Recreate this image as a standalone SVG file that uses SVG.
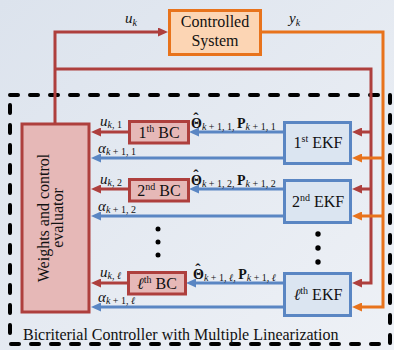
<svg xmlns="http://www.w3.org/2000/svg" width="394" height="350" viewBox="0 0 394 350">
<defs>
<linearGradient id="bg" x1="0" y1="0" x2="1" y2="1">
<stop offset="0" stop-color="#dce3ed"/>
<stop offset="1" stop-color="#eef1f6"/>
</linearGradient>
<marker id="ar" viewBox="0 0 10 9" refX="5" refY="4.5" markerWidth="10" markerHeight="9" markerUnits="userSpaceOnUse" orient="auto"><path d="M0,0 L10,4.5 L0,9 z" fill="#ae3f3d"/></marker>
<marker id="ab" viewBox="0 0 10 9" refX="5" refY="4.5" markerWidth="10" markerHeight="9" markerUnits="userSpaceOnUse" orient="auto"><path d="M0,0 L10,4.5 L0,9 z" fill="#5a86c3"/></marker>
<marker id="ao" viewBox="0 0 10 9" refX="5" refY="4.5" markerWidth="10" markerHeight="9" markerUnits="userSpaceOnUse" orient="auto"><path d="M0,0 L10,4.5 L0,9 z" fill="#e8731c"/></marker>
</defs>
<style>
text,tspan{font-family:"Liberation Serif","DejaVu Serif",serif}
text{fill:#111}
.red{fill:none;stroke:#ae3f3d;stroke-width:3}
.blu{fill:none;stroke:#5a86c3;stroke-width:3}
.org{fill:none;stroke:#e8731c;stroke-width:3}
.bc{fill:#e6b8b7;stroke:#ae3f3d;stroke-width:3}
.ekf{fill:#dbe5f1;stroke:#5a86c3;stroke-width:3}
.box{font-size:16px;text-anchor:middle}
.sup{font-size:10px}
.m{font-size:15px;font-style:italic}
.s{font-size:10px;font-style:italic}
.sn{font-size:10px;font-style:normal}
.b{font-size:14px;font-weight:bold}
.hat{font-size:16px;font-weight:bold}
.dot{fill:#000}
</style>
<rect x="0" y="0" width="394" height="350" fill="url(#bg)"/>
<rect x="10" y="95" width="380" height="249" fill="none" stroke="#000" stroke-width="4" stroke-dasharray="8 12" stroke-linecap="round"/>
<text x="23" y="340" font-size="16">Bicriterial Controller with Multiple Linearization</text>

<g id="connectors">
<polyline class="red" points="55,123 55,32 163,32" marker-end="url(#ar)"/>
<polyline class="red" points="55,69 371,69 371,283 357,283" marker-end="url(#ar)"/>
<line class="red" x1="371" y1="132" x2="357" y2="132" marker-end="url(#ar)"/>
<line class="red" x1="371" y1="189" x2="357" y2="189" marker-end="url(#ar)"/>
<polyline class="org" points="262,32 383,32 383,307 357,307" marker-end="url(#ao)"/>
<line class="org" x1="383" y1="158" x2="357" y2="158" marker-end="url(#ao)"/>
<line class="org" x1="383" y1="216" x2="357" y2="216" marker-end="url(#ao)"/>
<line class="blu" x1="284" y1="132" x2="194" y2="132" marker-end="url(#ab)"/>
<line class="blu" x1="284" y1="189" x2="194" y2="189" marker-end="url(#ab)"/>
<line class="blu" x1="284" y1="283" x2="191" y2="283" marker-end="url(#ab)"/>
<line class="blu" x1="284" y1="158" x2="96" y2="158" marker-end="url(#ab)"/>
<line class="blu" x1="284" y1="216" x2="96" y2="216" marker-end="url(#ab)"/>
<line class="blu" x1="284" y1="307" x2="96" y2="307" marker-end="url(#ab)"/>
<line class="red" x1="129" y1="132" x2="96" y2="132" marker-end="url(#ar)"/>
<line class="red" x1="129" y1="189" x2="96" y2="189" marker-end="url(#ar)"/>
<line class="red" x1="128" y1="283" x2="96" y2="283" marker-end="url(#ar)"/>
<text x="125" y="23"><tspan class="m">u</tspan><tspan class="s" dy="3">k</tspan></text>
<text x="289" y="23"><tspan class="m">y</tspan><tspan class="s" dy="3">k</tspan></text>
<text x="100" y="126"><tspan class="m">u</tspan><tspan class="s" dy="2">k</tspan><tspan class="sn">, 1</tspan></text>
<text x="100" y="184"><tspan class="m">u</tspan><tspan class="s" dy="2">k</tspan><tspan class="sn">, 2</tspan></text>
<text x="100" y="277"><tspan class="m">u</tspan><tspan class="s" dy="2">k</tspan><tspan class="sn">, </tspan><tspan class="s">ℓ</tspan></text>
<text x="98" y="153"><tspan class="m">α</tspan><tspan class="s" dy="2">k</tspan><tspan class="sn"> + 1, 1</tspan></text>
<text x="98" y="211"><tspan class="m">α</tspan><tspan class="s" dy="2">k</tspan><tspan class="sn"> + 1, 2</tspan></text>
<text x="98" y="302"><tspan class="m">α</tspan><tspan class="s" dy="2">k</tspan><tspan class="sn"> + 1, </tspan><tspan class="s">ℓ</tspan></text>
<text><tspan class="hat" x="193.2" y="124">ˆ</tspan><tspan class="b" x="191" y="128">Θ</tspan><tspan class="s" dy="2">k</tspan><tspan class="sn"> + 1, 1, </tspan><tspan class="b" dy="-2">P</tspan><tspan class="s" dy="2">k</tspan><tspan class="sn"> + 1, 1</tspan></text>
<text><tspan class="hat" x="193.2" y="181">ˆ</tspan><tspan class="b" x="191" y="185">Θ</tspan><tspan class="s" dy="2">k</tspan><tspan class="sn"> + 1, 2, </tspan><tspan class="b" dy="-2">P</tspan><tspan class="s" dy="2">k</tspan><tspan class="sn"> + 1, 2</tspan></text>
<text><tspan class="hat" x="195.2" y="275">ˆ</tspan><tspan class="b" x="193" y="279">Θ</tspan><tspan class="s" dy="2">k</tspan><tspan class="sn"> + 1, </tspan><tspan class="s">ℓ</tspan><tspan class="sn">, </tspan><tspan class="b" dy="-2">P</tspan><tspan class="s" dy="2">k</tspan><tspan class="sn"> + 1, </tspan><tspan class="s">ℓ</tspan></text>
</g>

<g id="controlled-system">
<rect x="169.5" y="10.5" width="91" height="44" fill="#fcd5b4" stroke="#e8731c" stroke-width="3"/>
<text class="box" x="215" y="27">Controlled</text>
<text class="box" x="215" y="46">System</text>
</g>

<g id="evaluator">
<rect x="22" y="124" width="67" height="188" class="bc"/>
<g transform="translate(55,218) rotate(-90)">
<text class="box" x="0" y="-6">Weights and control</text>
<text class="box" x="0" y="8">evaluator</text>
</g>
</g>

<g id="bc1">
<rect x="129.5" y="121.5" width="59" height="21.5" class="bc"/>
<text class="box" x="159" y="138">1<tspan class="sup" dy="-6">th</tspan><tspan dy="6"> BC</tspan></text>
</g>
<g id="bc2">
<rect x="129.5" y="179.5" width="59" height="21.5" class="bc"/>
<text class="box" x="159" y="196">2<tspan class="sup" dy="-6">nd</tspan><tspan dy="6"> BC</tspan></text>
</g>
<g id="bcl">
<rect x="128.5" y="272.5" width="57" height="21.5" class="bc"/>
<text class="box" x="157" y="289"><tspan font-style="italic">ℓ</tspan><tspan class="sup" dy="-6">th</tspan><tspan dy="6"> BC</tspan></text>
</g>
<g id="bc-dots">
<circle class="dot" cx="158" cy="229" r="2.5"/>
<circle class="dot" cx="158" cy="242" r="2.5"/>
<circle class="dot" cx="158" cy="255" r="2.5"/>
</g>

<g id="ekf1">
<rect x="284.5" y="122.5" width="66" height="41" class="ekf"/>
<text class="box" x="318" y="148">1<tspan class="sup" dy="-6">st</tspan><tspan dy="6"> EKF</tspan></text>
</g>
<g id="ekf2">
<rect x="284.5" y="180.5" width="66" height="42" class="ekf"/>
<text class="box" x="318" y="207">2<tspan class="sup" dy="-6">nd</tspan><tspan dy="6"> EKF</tspan></text>
</g>
<g id="ekfl">
<rect x="284.5" y="273.5" width="66" height="42" class="ekf"/>
<text class="box" x="318" y="300"><tspan font-style="italic">ℓ</tspan><tspan class="sup" dy="-6">th</tspan><tspan dy="6"> EKF</tspan></text>
</g>
<g id="ekf-dots">
<circle class="dot" cx="318" cy="234" r="2.7"/>
<circle class="dot" cx="318" cy="248" r="2.7"/>
<circle class="dot" cx="318" cy="262" r="2.7"/>
</g>
</svg>
